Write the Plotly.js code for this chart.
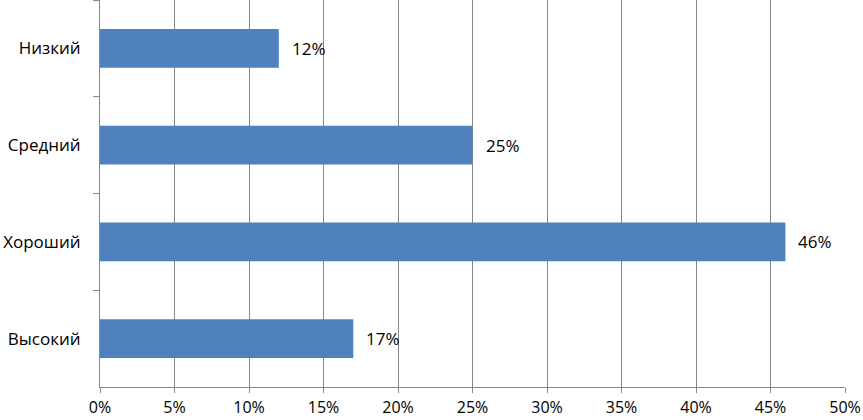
<!DOCTYPE html>
<html><head><meta charset="utf-8">
<script src="https://cdn.plot.ly/plotly-3.0.1.min.js"></script>
<style>html,body{margin:0;padding:0;background:#fff}#chart{width:863px;height:420px}</style>
</head><body><div id="chart"></div>
<script>
const categories = ["Низкий", "Средний", "Хороший", "Высокий"];
const values = [12, 25, 46, 17];
const xTicks = [0, 5, 10, 15, 20, 25, 30, 35, 40, 45, 50];

const font = {family: "Open Sans, Liberation Sans, sans-serif", size: 17, color: "#000"};
const trace = {
  type: "bar", orientation: "h",
  x: values, y: categories,
  marker: {color: "#4f81bd"},
  hoverinfo: "none"
};
const annotations = values.map((v, i) => ({
  x: v, y: categories[i], xref: "x", yref: "y",
  text: v + "%", showarrow: false, xanchor: "left", xshift: 11,
  font: font
}));
const layout = {
  width: 863, height: 420,
  margin: {l: 100, r: 18, t: 0, b: 33},
  paper_bgcolor: "#fff", plot_bgcolor: "#fff",
  bargap: 0.6,
  font: font,
  showlegend: false,
  xaxis: {
    range: [0, 50], tickvals: xTicks, ticktext: xTicks.map(t => t + "%"),
    showgrid: true, gridcolor: "#868686", gridwidth: 1,
    showline: true, linecolor: "#868686", linewidth: 1,
    ticks: "outside", ticklen: 5, tickcolor: "#868686",
    ticklabelstandoff: 1,
    zeroline: false, tickfont: Object.assign({}, font, {size: 16}), fixedrange: true
  },
  yaxis: {
    autorange: "reversed", type: "category",
    showgrid: false, showline: true, linecolor: "#868686", linewidth: 1,
    ticks: "outside", tickson: "boundaries", ticklen: 6, tickcolor: "#868686",
    tickfont: font, ticklabelstandoff: 15, zeroline: false
  },
  annotations: annotations
};
Plotly.newPlot("chart", [trace], layout, {staticPlot: true});
</script></body></html>
